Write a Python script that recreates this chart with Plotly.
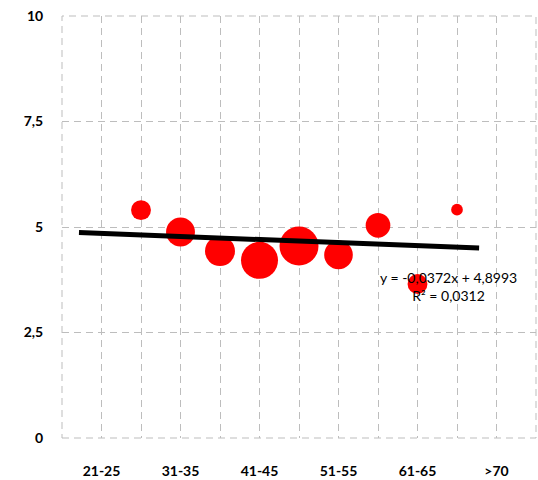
import plotly.graph_objects as go

# ---- data ----
age_groups = ["21-25", "26-30", "31-35", "36-40", "41-45", "46-50",
              "51-55", "56-60", "61-65", "66-70", ">70"]
bubble_groups = ["26-30", "31-35", "36-40", "41-45", "46-50",
                 "51-55", "56-60", "61-65", "66-70"]
bubble_values = [5.40, 4.88, 4.43, 4.21, 4.55, 4.34, 5.04, 3.65, 5.41]
bubble_weights = [26, 55, 59, 90, 100, 54, 40, 26, 9]
x_tick_labels = ["21-25", "31-35", "41-45", "51-55", "61-65", ">70"]
y_tick_values = [0, 2.5, 5, 7.5, 10]
y_tick_labels = ["0", "2,5", "5", "7,5", "10"]
trend_x = [0.43, 10.56]
trend_y = [4.87, 4.50]
trend_label = "y = -0,0372x + 4,8993<br>R² = 0,0312"

pos = {g: i + 1 for i, g in enumerate(age_groups)}
bx = [pos[g] for g in bubble_groups]

FONT = "Lato, 'Liberation Sans', sans-serif"
GRID = "#bdbdbd"
DASH = "7px,5px"

fig = go.Figure()
fig.add_trace(go.Scatter(
    x=bx, y=bubble_values, mode="markers",
    marker=dict(size=bubble_weights, sizemode="area",
                sizeref=2 * max(bubble_weights) / 39 ** 2,
                color="#ff0000", line=dict(width=0), opacity=1),
    hoverinfo="skip", showlegend=False))
fig.add_trace(go.Scatter(
    x=trend_x, y=trend_y, mode="lines",
    line=dict(color="#000000", width=5),
    hoverinfo="skip", showlegend=False))

tickvals_x = list(range(0, 13))
ticktext_x = [""] * 13
for lab in x_tick_labels:
    ticktext_x[pos[lab]] = lab

# dashed frame around the plot area (edge grid lines)
fig.add_shape(type="rect", xref="paper", yref="paper", x0=0, x1=1, y0=0, y1=1,
              line=dict(color=GRID, width=1, dash=DASH), layer="below")

fig.add_annotation(x=9.78, y=3.60, xref="x", yref="y", text=trend_label,
                   showarrow=False, align="center",
                   font=dict(family=FONT, size=14, color="#000000"))

fig.update_layout(
    width=538, height=480,
    margin=dict(l=62, r=2, t=16, b=42),
    paper_bgcolor="white", plot_bgcolor="white",
    font=dict(family=FONT, color="#000000"),
    xaxis=dict(range=[0, 12], tickvals=tickvals_x, ticktext=ticktext_x,
               showgrid=True, gridcolor=GRID, gridwidth=1, griddash=DASH,
               zeroline=False, showline=False, automargin=False,
               ticks="outside", ticklen=20, tickcolor="rgba(0,0,0,0)",
               tickfont=dict(family=FONT, size=14, weight="bold")),
    yaxis=dict(range=[0, 10], tickvals=y_tick_values, ticktext=y_tick_labels,
               showgrid=True, gridcolor=GRID, gridwidth=1, griddash=DASH,
               zeroline=False, showline=False, automargin=False,
               ticks="outside", ticklen=15, tickcolor="rgba(0,0,0,0)",
               tickfont=dict(family=FONT, size=14, weight="bold")),
)

fig.write_html("out.html", config={"displayModeBar": False},
               post_script="document.body.style.margin='0';"
                           "document.body.style.overflow='hidden';")
